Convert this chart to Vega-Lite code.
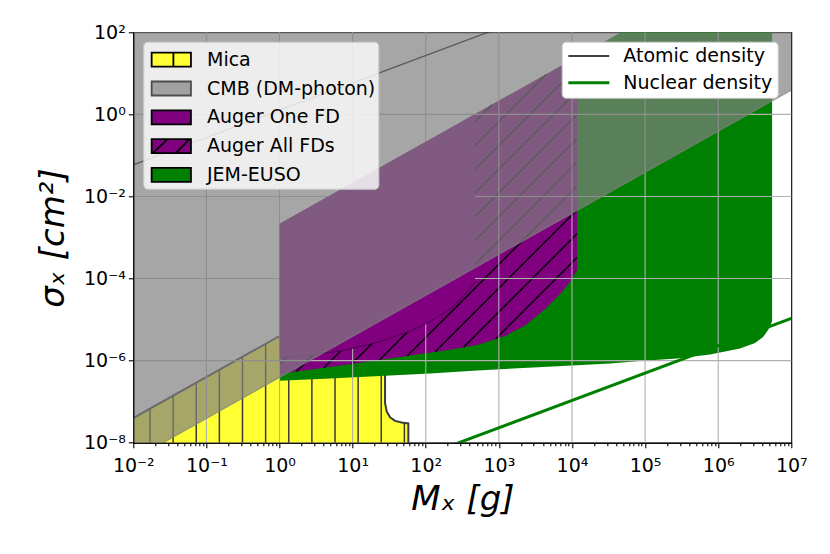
{
"$schema": "https://vega.github.io/schema/vega-lite/v6.json",
"width": 658, "height": 410.4,
"autosize": {"type": "none"},
"padding": {"left": 133.3, "top": 32.3, "right": 38.7, "bottom": 111.3},
"background": "white",
"config": {
  "view": {"stroke": "#000000", "strokeWidth": 1.1},
  "font": "DejaVu Sans",
  "axis": {"labelFont": "DejaVu Sans", "labelFontSize": 19, "labelColor": "#000000", "tickColor": "#000000", "tickWidth": 1.1, "domainColor": "#000000", "domainWidth": 1.1, "titleFont": "DejaVu Sans", "titleFontSize": 34, "titleFontWeight": "normal", "titleColor": "#000000", "grid": false, "labelOverlap": false, "labelFlush": false}
},
"datasets": {
  "mica": [
    {"m": 0.01, "s": 1e-8, "s2": 3.98e-8},
    {"m": 1, "s": 1e-8, "s2": 3.98e-6},
    {"m": 1.072, "s": 1e-8, "s2": 5.01e-7},
    {"m": 27.75, "s": 1e-8, "s2": 5.01e-7},
    {"m": 27.76, "s": 1e-8, "s2": 9.16e-8},
    {"m": 29.28, "s": 1e-8, "s2": 5.72e-8},
    {"m": 32.48, "s": 1e-8, "s2": 4.18e-8},
    {"m": 38.02, "s": 1e-8, "s2": 3.40e-8},
    {"m": 46.96, "s": 1e-8, "s2": 3.09e-8},
    {"m": 54.95, "s": 1e-8, "s2": 2.99e-8},
    {"m": 57.81, "s": 1e-8, "s2": 2.99e-8},
    {"m": 57.82, "s": 1e-8, "s2": 1e-8}
  ],
  "micahatch": [
    {"m": 0.01693, "s": 1e-8, "s2": 6.74e-8},
    {"m": 0.03506, "s": 1e-8, "s2": 1.396e-7},
    {"m": 0.07262, "s": 1e-8, "s2": 2.891e-7},
    {"m": 0.1504, "s": 1e-8, "s2": 5.99e-7},
    {"m": 0.3116, "s": 1e-8, "s2": 1.241e-6},
    {"m": 0.6457, "s": 1e-8, "s2": 2.57e-6},
    {"m": 1.338, "s": 1e-8, "s2": 5.01e-7},
    {"m": 2.771, "s": 1e-8, "s2": 5.01e-7},
    {"m": 5.741, "s": 1e-8, "s2": 5.01e-7},
    {"m": 11.89, "s": 1e-8, "s2": 5.01e-7},
    {"m": 24.63, "s": 1e-8, "s2": 5.01e-7},
    {"m": 51.03, "s": 1e-8, "s2": 3.09e-8}
  ],
  "green": [
    {"m": 1, "s": 3.21e-7, "s2": 0.002138},
    {"m": 4.908, "s": 3.68e-7, "s2": 0.01049},
    {"m": 23.7, "s": 4.24e-7, "s2": 0.05067},
    {"m": 114.5, "s": 4.88e-7, "s2": 0.2448},
    {"m": 503.3, "s": 5.77e-7, "s2": 1.076},
    {"m": 4024, "s": 7.03e-7, "s2": 8.603},
    {"m": 33200, "s": 8.55e-7, "s2": 70.98},
    {"m": 85430, "s": 9.84e-7, "s2": 182.6},
    {"m": 274100, "s": 1.132e-6, "s2": 586.0},
    {"m": 774500, "s": 1.416e-6, "s2": 1656},
    {"m": 1992000, "s": 1.982e-6, "s2": 4259},
    {"m": 3195000, "s": 2.70e-6, "s2": 6831},
    {"m": 4114000, "s": 3.78e-6, "s2": 8796},
    {"m": 4815000, "s": 5.60e-6, "s2": 10294},
    {"m": 5292000, "s": 7.83e-6, "s2": 11314},
    {"m": 5462000, "s": 9.27e-6, "s2": 11678}
  ],
  "allfds": [
    {"m": 1, "s": 4.01e-7, "s2": 0.002138},
    {"m": 1.127, "s": 4.93e-7, "s2": 0.00241},
    {"m": 4.908, "s": 7.03e-7, "s2": 0.01049},
    {"m": 23.7, "s": 1.04e-6, "s2": 0.05067},
    {"m": 61.0, "s": 1.34e-6, "s2": 0.1304},
    {"m": 183.7, "s": 1.774e-6, "s2": 0.3928},
    {"m": 503.3, "s": 2.415e-6, "s2": 1.076},
    {"m": 1215, "s": 4.0e-6, "s2": 2.598},
    {"m": 2282, "s": 7.21e-6, "s2": 4.879},
    {"m": 4285, "s": 1.816e-5, "s2": 9.161},
    {"m": 6874, "s": 4.22e-5, "s2": 14.70},
    {"m": 9419, "s": 8.26e-5, "s2": 20.14},
    {"m": 11740, "s": 1.618e-4, "s2": 25.10}
  ],
  "hatch": [
    {"m": 1.016, "s": 1.186e-5, "m2": 804.6, "s2": 1.723},
    {"m": 1.016, "s": 3.123e-6, "m2": 4449, "s2": 9.535},
    {"m": 1.016, "s": 8.22e-7, "m2": 11740, "s2": 14.12},
    {"m": 1.708, "s": 5.46e-7, "m2": 11740, "s2": 3.715},
    {"m": 4.062, "s": 6.71e-7, "m2": 11740, "s2": 0.9779},
    {"m": 9.69, "s": 8.32e-7, "m2": 11740, "s2": 0.2573},
    {"m": 23.48, "s": 1.057e-6, "m2": 11740, "s2": 0.06776},
    {"m": 56.02, "s": 1.309e-6, "m2": 11740, "s2": 0.01782},
    {"m": 134.5, "s": 1.637e-6, "m2": 11740, "s2": 0.004688},
    {"m": 328.9, "s": 2.118e-6, "m2": 11740, "s2": 0.001233},
    {"m": 904.2, "s": 3.381e-6, "m2": 11740, "s2": 0.000325}
  ],
  "onefd": [
    {"m": 1, "s": 1.164e-6, "s2": 0.002138},
    {"m": 2.614, "s": 1.34e-6, "s2": 0.005589},
    {"m": 8.30, "s": 1.824e-6, "s2": 0.01775},
    {"m": 23.7, "s": 2.904e-6, "s2": 0.05067},
    {"m": 67.7, "s": 5.60e-6, "s2": 0.1447},
    {"m": 114.5, "s": 8.91e-6, "s2": 0.2448},
    {"m": 215.0, "s": 1.816e-5, "s2": 0.4597},
    {"m": 294.5, "s": 3.01e-5, "s2": 0.6296},
    {"m": 403.6, "s": 5.90e-5, "s2": 0.8629},
    {"m": 472.5, "s": 8.26e-5, "s2": 1.010}
  ],
  "cmb": [
    {"m": 0.01, "s": 3.89e-9, "s2": 100},
    {"m": 10000000, "s": 3.89, "s2": 100}
  ],
  "atomic": [
    {"m": 0.01, "s": 0.05848},
    {"m": 10000, "s": 584.8}
  ],
  "nuclear": [
    {"m": 100, "s": 4.98e-9},
    {"m": 10000000, "s": 1.072e-5}
  ],
  "gridx": [{"m": 0.1}, {"m": 1}, {"m": 10}, {"m": 100}, {"m": 1000}, {"m": 10000}, {"m": 100000}, {"m": 1000000}],
  "gridy": [{"s": 1e-6}, {"s": 1e-4}, {"s": 0.01}, {"s": 1}]
},
"layer": [
  {
    "data": {"name": "mica"},
    "mark": {"type": "area", "clip": true, "strokeWidth": 0},
    "encoding": {
      "x": {"field": "m", "type": "quantitative", "scale": {"type": "log", "domain": [0.01, 10000000], "nice": false},
        "axis": {"title": "Mₓ [g]", "titleFontStyle": "italic", "zindex": 1, "titlePadding": 7, "labelPadding": 9,
          "values": [0.01,0.02,0.03,0.04,0.05,0.06,0.07,0.08,0.09,0.1,0.2,0.3,0.4,0.5,0.6,0.7,0.8,0.9,1,2,3,4,5,6,7,8,9,10,20,30,40,50,60,70,80,90,100,200,300,400,500,600,700,800,900,1000,2000,3000,4000,5000,6000,7000,8000,9000,10000,20000,30000,40000,50000,60000,70000,80000,90000,100000,200000,300000,400000,500000,600000,700000,800000,900000,1000000,2000000,3000000,4000000,5000000,6000000,7000000,8000000,9000000,10000000],
          "labelExpr": "abs(log(datum.value)/LN10 - round(log(datum.value)/LN10)) < 0.001 ? '10' + replace(replace(replace(replace(replace(replace(replace(replace(replace(replace(replace('' + round(log(datum.value)/LN10), '-', '⁻'), '0', '⁰'), '1', '¹'), '2', '²'), '3', '³'), '4', '⁴'), '5', '⁵'), '6', '⁶'), '7', '⁷'), '8', '⁸'), '9', '⁹') : ''",
          "tickSize": {"condition": {"test": "abs(log(datum.value)/LN10 - round(log(datum.value)/LN10)) < 0.001", "value": 5}, "value": 3}
        }},
      "y": {"field": "s", "type": "quantitative", "scale": {"type": "log", "domain": [1e-8, 100], "nice": false},
        "axis": {"title": "σₓ [cm²]", "titleFontStyle": "italic", "zindex": 1, "titlePadding": 13, "labelPadding": 3, "tickSize": 5,
          "values": [1e-8, 1e-6, 0.0001, 0.01, 1, 100],
          "labelExpr": "'10' + replace(replace(replace(replace(replace(replace(replace(replace(replace(replace(replace('' + round(log(datum.value)/LN10), '-', '⁻'), '0', '⁰'), '1', '¹'), '2', '²'), '3', '³'), '4', '⁴'), '5', '⁵'), '6', '⁶'), '7', '⁷'), '8', '⁸'), '9', '⁹')"
        }},
      "y2": {"field": "s2"},
      "fill": {"datum": "Mica", "type": "nominal",
        "scale": {"domain": ["Mica", "CMB (DM-photon)", "Auger One FD", "Auger All FDs", "JEM-EUSO"], "range": ["#ffff33", "#808080", "#800080", "#800080", "#008000"]},
        "legend": {"title": null, "orient": "none", "legendX": 10, "legendY": 9.4, "fillColor": "rgba(255,255,255,0.8)", "strokeColor": "#cccccc", "cornerRadius": 4, "padding": 3,
          "symbolSize": 788, "symbolType": "M-1.4,-0.5H1.4V0.5H-1.4Z", "symbolOffset": 10, "labelOffset": 20.7, "rowPadding": 2.8,
          "labelFont": "DejaVu Sans", "labelFontSize": 19, "labelColor": "#000000", "labelLimit": 400,
          "encode": {"symbols": {"update": {
            "shape": {"signal": "datum.value === 'Mica' ? 'M-1.4,-0.5H1.4V0.5H-1.4Z M0.15,-0.5V0.5' : datum.value === 'Auger All FDs' ? 'M-1.4,-0.5H1.4V0.5H-1.4Z M-1.32,0.5L-0.26,-0.5 M0.33,0.5L1.29,-0.5' : 'M-1.4,-0.5H1.4V0.5H-1.4Z'"},
            "stroke": {"signal": "datum.value === 'CMB (DM-photon)' ? '#4d4d4d' : '#000000'"},
            "strokeWidth": {"value": 1.8},
            "opacity": {"value": 1},
            "fillOpacity": {"signal": "datum.value === 'CMB (DM-photon)' ? 0.7 : 1"},
            "strokeOpacity": {"value": 1}
          }}}
        }}
    }
  },
  {
    "data": {"name": "micahatch"},
    "mark": {"type": "rule", "clip": true, "stroke": "#3a3a3a", "strokeWidth": 1.5},
    "encoding": {
      "x": {"field": "m", "type": "quantitative", "scale": {"type": "log", "domain": [0.01, 10000000], "nice": false}},
      "y": {"field": "s", "type": "quantitative", "scale": {"type": "log", "domain": [1e-8, 100], "nice": false}},
      "y2": {"field": "s2"}
    }
  },
  {
    "data": {"name": "mica"},
    "mark": {"type": "line", "clip": true, "stroke": "#3a3a3a", "strokeWidth": 2, "strokeJoin": "round"},
    "encoding": {
      "x": {"field": "m", "type": "quantitative", "scale": {"type": "log", "domain": [0.01, 10000000], "nice": false}},
      "y": {"field": "s2", "type": "quantitative", "scale": {"type": "log", "domain": [1e-8, 100], "nice": false}}
    }
  },
  {
    "data": {"name": "green"},
    "mark": {"type": "area", "clip": true, "strokeWidth": 0},
    "encoding": {
      "x": {"field": "m", "type": "quantitative", "scale": {"type": "log", "domain": [0.01, 10000000], "nice": false}},
      "y": {"field": "s", "type": "quantitative", "scale": {"type": "log", "domain": [1e-8, 100], "nice": false}},
      "y2": {"field": "s2"},
      "fill": {"datum": "JEM-EUSO", "type": "nominal", "scale": {"domain": ["Mica", "CMB (DM-photon)", "Auger One FD", "Auger All FDs", "JEM-EUSO"], "range": ["#ffff33", "#808080", "#800080", "#800080", "#008000"]}}
    }
  },
  {
    "data": {"name": "allfds"},
    "mark": {"type": "area", "clip": true, "strokeWidth": 0},
    "encoding": {
      "x": {"field": "m", "type": "quantitative", "scale": {"type": "log", "domain": [0.01, 10000000], "nice": false}},
      "y": {"field": "s", "type": "quantitative", "scale": {"type": "log", "domain": [1e-8, 100], "nice": false}},
      "y2": {"field": "s2"},
      "fill": {"datum": "Auger All FDs", "type": "nominal", "scale": {"domain": ["Mica", "CMB (DM-photon)", "Auger One FD", "Auger All FDs", "JEM-EUSO"], "range": ["#ffff33", "#808080", "#800080", "#800080", "#008000"]}}
    }
  },
  {
    "data": {"name": "hatch"},
    "mark": {"type": "rule", "clip": true, "stroke": "#000000", "strokeWidth": 1.4},
    "encoding": {
      "x": {"field": "m", "type": "quantitative", "scale": {"type": "log", "domain": [0.01, 10000000], "nice": false}},
      "y": {"field": "s", "type": "quantitative", "scale": {"type": "log", "domain": [1e-8, 100], "nice": false}},
      "x2": {"field": "m2"},
      "y2": {"field": "s2"}
    }
  },
  {
    "data": {"name": "gridx"},
    "mark": {"type": "rule", "stroke": "#b0b0b0", "strokeWidth": 1.1},
    "encoding": {
      "x": {"field": "m", "type": "quantitative", "scale": {"type": "log", "domain": [0.01, 10000000], "nice": false}}
    }
  },
  {
    "data": {"name": "gridy"},
    "mark": {"type": "rule", "stroke": "#b0b0b0", "strokeWidth": 1.1},
    "encoding": {
      "y": {"field": "s", "type": "quantitative", "scale": {"type": "log", "domain": [1e-8, 100], "nice": false}}
    }
  },
  {
    "data": {"name": "onefd"},
    "mark": {"type": "area", "clip": true, "strokeWidth": 0},
    "encoding": {
      "x": {"field": "m", "type": "quantitative", "scale": {"type": "log", "domain": [0.01, 10000000], "nice": false}},
      "y": {"field": "s", "type": "quantitative", "scale": {"type": "log", "domain": [1e-8, 100], "nice": false}},
      "y2": {"field": "s2"},
      "fill": {"datum": "Auger One FD", "type": "nominal", "scale": {"domain": ["Mica", "CMB (DM-photon)", "Auger One FD", "Auger All FDs", "JEM-EUSO"], "range": ["#ffff33", "#808080", "#800080", "#800080", "#008000"]}}
    }
  },
  {
    "data": {"name": "onefd"},
    "mark": {"type": "line", "clip": true, "stroke": "#3d003d", "strokeWidth": 0.8},
    "encoding": {
      "x": {"field": "m", "type": "quantitative", "scale": {"type": "log", "domain": [0.01, 10000000], "nice": false}},
      "y": {"field": "s", "type": "quantitative", "scale": {"type": "log", "domain": [1e-8, 100], "nice": false}}
    }
  },
  {
    "data": {"name": "atomic"},
    "mark": {"type": "line", "clip": true, "strokeWidth": 1.3},
    "encoding": {
      "x": {"field": "m", "type": "quantitative", "scale": {"type": "log", "domain": [0.01, 10000000], "nice": false}},
      "y": {"field": "s", "type": "quantitative", "scale": {"type": "log", "domain": [1e-8, 100], "nice": false}},
      "stroke": {"datum": "Atomic density", "type": "nominal",
        "scale": {"domain": ["Atomic density", "Nuclear density"], "range": ["#000000", "#008000"]},
        "legend": {"title": null, "orient": "none", "legendX": 428.4, "legendY": 9.4, "fillColor": "#ffffff", "strokeColor": "#cccccc", "cornerRadius": 4, "padding": 4.8,
          "symbolSize": 788, "symbolType": "M-1.46,0H1.46", "symbolOffset": 12.8, "labelOffset": 25, "rowPadding": 6.8,
          "labelFont": "DejaVu Sans", "labelFontSize": 19, "labelColor": "#000000", "labelLimit": 400,
          "encode": {"symbols": {"update": {
            "strokeWidth": {"signal": "datum.value === 'Nuclear density' ? 3 : 1.4"},
            "opacity": {"value": 1},
            "strokeOpacity": {"value": 1}
          }}}
        }}
    }
  },
  {
    "data": {"name": "nuclear"},
    "mark": {"type": "line", "clip": true, "strokeWidth": 3},
    "encoding": {
      "x": {"field": "m", "type": "quantitative", "scale": {"type": "log", "domain": [0.01, 10000000], "nice": false}},
      "y": {"field": "s", "type": "quantitative", "scale": {"type": "log", "domain": [1e-8, 100], "nice": false}},
      "stroke": {"datum": "Nuclear density", "type": "nominal", "scale": {"domain": ["Atomic density", "Nuclear density"], "range": ["#000000", "#008000"]}}
    }
  },
  {
    "data": {"name": "cmb"},
    "mark": {"type": "area", "clip": true, "strokeWidth": 0, "fillOpacity": 0.7},
    "encoding": {
      "x": {"field": "m", "type": "quantitative", "scale": {"type": "log", "domain": [0.01, 10000000], "nice": false}},
      "y": {"field": "s", "type": "quantitative", "scale": {"type": "log", "domain": [1e-8, 100], "nice": false}},
      "y2": {"field": "s2"},
      "fill": {"datum": "CMB (DM-photon)", "type": "nominal", "scale": {"domain": ["Mica", "CMB (DM-photon)", "Auger One FD", "Auger All FDs", "JEM-EUSO"], "range": ["#ffff33", "#808080", "#800080", "#800080", "#008000"]}}
    }
  },
  {
    "data": {"name": "cmb"},
    "mark": {"type": "line", "clip": true, "stroke": "#808080", "strokeWidth": 1.2, "opacity": 0.7},
    "encoding": {
      "x": {"field": "m", "type": "quantitative", "scale": {"type": "log", "domain": [0.01, 10000000], "nice": false}},
      "y": {"field": "s", "type": "quantitative", "scale": {"type": "log", "domain": [1e-8, 100], "nice": false}}
    }
  }
]
}
